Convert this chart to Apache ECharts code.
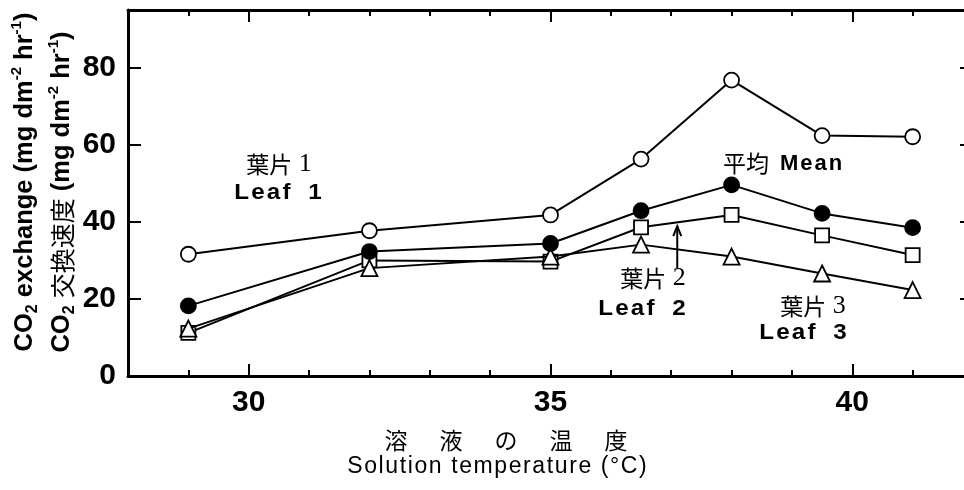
<!DOCTYPE html>
<html>
<head>
<meta charset="utf-8">
<script src="https://cdn.jsdelivr.net/npm/echarts@6/dist/echarts.min.js"></script>
<style>
  html, body { margin: 0; padding: 0; background: #fff; }
  #chart { width: 964px; height: 490px; }
</style>
</head>
<body>
<div id="chart"></div>
<script>
// Solution temperature (°C) at each measurement
const temperatures = [29, 32, 35, 36.5, 38, 39.5, 41];
// CO2 exchange rate (mg dm^-2 hr^-1)
const leaf1 = [31.6, 37.7, 41.8, 56.3, 76.8, 62.4, 62.1];
const leaf2 = [11.2, 30.0, 29.7, 38.6, 41.8, 36.5, 31.4];
const leaf3 = [12.3, 28.0, 31.0, 34.1, 31.0, 26.6, 22.3];
const mean  = [18.2, 32.3, 34.4, 42.9, 49.6, 42.2, 38.5];

// Axis ticks
const xMinorTicks = [29, 31, 32, 33, 34, 36, 37, 38, 39, 41];
const xMajorTicks = [30, 35, 40];
const yTicks = [0, 20, 40, 60, 80];

// Arrow pointing at the Leaf 2 curve (data coordinates: [temperature, rate])
const arrowFrom = [37.1, 28.0];
const arrowTo = [37.1, 38.9];

const SANS = '"Liberation Sans", Arial, sans-serif';
const CJK = '"Noto Sans CJK JP", sans-serif';
const SERIF = '"Liberation Serif", serif';
const INK = '#000';

function pairs(values) {
  return temperatures.map((t, i) => [t, values[i]]);
}
// wrap each character in its own rich token so the text gets letter spacing
function spaced(str, style) {
  return str.split('').map(c => '{' + style + '|' + c + '}').join('');
}
function leafText(n) {
  return spaced('Leaf', 'e') + '{w| }' + '{e|' + n + '}';
}

const chart = echarts.init(document.getElementById('chart'), null, { renderer: 'canvas' });

const tickStyle = { color: INK, width: 2 };
const lineStyleAxis = { color: INK, width: 3 };

function xAxisPair(position, withLabels) {
  return [
    {
      type: 'value', min: 28, max: 42, position: position,
      axisLine: { show: true, onZero: false, lineStyle: lineStyleAxis },
      axisTick: { show: true, inside: true, length: 6, customValues: xMinorTicks, lineStyle: tickStyle },
      axisLabel: { show: false },
      splitLine: { show: false }
    },
    {
      type: 'value', min: 28, max: 42, position: position,
      axisLine: { show: false, onZero: false },
      axisTick: { show: true, inside: true, length: 12, customValues: xMajorTicks, lineStyle: tickStyle },
      axisLabel: {
        show: withLabels, customValues: xMajorTicks, color: INK,
        fontFamily: SANS, fontSize: 30, fontWeight: 'bold', margin: 12
      },
      splitLine: { show: false }
    }
  ];
}

function yAxisSide(position, withLabels) {
  return {
    type: 'value', min: 0, max: 95, position: position,
    axisLine: { show: true, onZero: false, lineStyle: lineStyleAxis },
    axisTick: { show: true, inside: true, length: 13, customValues: yTicks, lineStyle: tickStyle },
    axisLabel: {
      show: withLabels, customValues: yTicks, color: INK,
      fontFamily: SANS, fontSize: 30, fontWeight: 'bold', margin: 12
    },
    splitLine: { show: false }
  };
}

function lineSeries(name, values, symbol, size, fill, z) {
  return {
    name: name, type: 'line', xAxisIndex: 0, yAxisIndex: 0,
    data: pairs(values),
    symbol: symbol, symbolSize: size, showSymbol: true,
    lineStyle: { color: INK, width: 2 },
    itemStyle: { color: fill, borderColor: INK, borderWidth: 1.8 },
    emphasis: { disabled: true },
    silent: true, z: z,
    animation: false
  };
}

const titleRich = {
  t: { fontFamily: SANS, fontSize: 25.5, fontWeight: 'bold', color: INK, lineHeight: 32 },
  sub: { fontFamily: SANS, fontSize: 16, fontWeight: 'bold', color: INK, lineHeight: 17, verticalAlign: 'bottom' },
  sup: { fontFamily: SANS, fontSize: 15, fontWeight: 'bold', color: INK, lineHeight: 17, verticalAlign: 'top' },
  cjk: { fontFamily: CJK, fontSize: 25, fontWeight: 'normal', color: INK, lineHeight: 32 }
};

const noteRich = {
  j: { fontFamily: CJK, fontSize: 23, color: INK },
  n: { fontFamily: SERIF, fontSize: 26, color: INK },
  e: { fontFamily: SANS, fontSize: 22, fontWeight: 'bold', color: INK, padding: [0, 1, 0, 1] },
  w: { fontFamily: SANS, fontSize: 22, fontWeight: 'bold', color: INK, padding: [0, 4, 0, 4] }
};

function note(x, y, text, sx) {
  return { type: 'text', x: x, y: y, silent: true, scaleX: sx || 1,
    style: { text: text, rich: noteRich, align: 'center', verticalAlign: 'middle' } };
}

const graphics = [
  // y-axis titles, read bottom to top
  { type: 'text', x: 25, y: 182, rotation: Math.PI / 2, silent: true,
    style: { text: '{t|CO}{sub|2}{t| exchange (mg dm}{sup|-2}{t| hr}{sup|-1}{t|)}',
             rich: titleRich, align: 'center', verticalAlign: 'middle' } },
  { type: 'text', x: 62, y: 192, rotation: Math.PI / 2, silent: true,
    style: { text: '{t|CO}{sub|2}{t| }{cjk|交換速度}{t| (mg dm}{sup|-2}{t| hr}{sup|-1}{t|)}',
             rich: titleRich, align: 'center', verticalAlign: 'middle' } },
  // x-axis titles
  { type: 'text', x: 506, y: 440, silent: true,
    style: { text: spaced('溶液の温度', 'k'),
             rich: { k: { fontFamily: CJK, fontSize: 23, color: INK, padding: [0, 16, 0, 16] } },
             align: 'center', verticalAlign: 'middle' } },
  { type: 'text', x: 497, y: 467, silent: true,
    style: { text: spaced('Solution temperature (°C)', 's'),
             rich: { s: { fontFamily: SANS, fontSize: 23, color: INK, padding: [0, 0.8, 0, 0.8] } },
             align: 'center', verticalAlign: 'middle' } },
  // curve labels
  note(279, 164, '{j|葉片}{n| 1}'),
  note(278, 193, leafText('1'), 1.1),
  note(746, 163, '{j|平均}'),
  note(811, 164, spaced('Mean', 'e'), 1.0),
  note(653, 278, '{j|葉片}{n| 2}'),
  note(642, 309, leafText('2'), 1.1),
  note(813, 306, '{j|葉片}{n| 3}'),
  note(803, 333, leafText('3'), 1.1)
];

chart.setOption({
  animation: false,
  backgroundColor: '#fff',
  grid: { left: 128, right: -9, top: 10, bottom: 114, containLabel: false, outerBoundsMode: 'none' },
  xAxis: [].concat(xAxisPair('bottom', true), xAxisPair('top', false)),
  yAxis: [yAxisSide('left', true), yAxisSide('right', false)],
  series: [
    lineSeries('Leaf 2', leaf2, 'rect', 14, '#fff', 2),
    lineSeries('Leaf 3', leaf3, 'triangle', 16, '#fff', 3),
    lineSeries('Mean', mean, 'circle', 15, INK, 4),
    lineSeries('Leaf 1', leaf1, 'circle', 15, '#fff', 5)
  ],
  graphic: graphics
});

// arrow from the "葉片 2" label up to its curve
const p0 = chart.convertToPixel({ xAxisIndex: 0, yAxisIndex: 0 }, arrowFrom);
const p1 = chart.convertToPixel({ xAxisIndex: 0, yAxisIndex: 0 }, arrowTo);
chart.setOption({
  graphic: graphics.concat([
    { type: 'line', silent: true,
      shape: { x1: p0[0], y1: p0[1], x2: p1[0], y2: p1[1] },
      style: { stroke: INK, lineWidth: 2 } },
    { type: 'polyline', silent: true,
      shape: { points: [[p1[0] - 4, p1[1] + 10], [p1[0], p1[1]], [p1[0] + 4, p1[1] + 10]] },
      style: { stroke: INK, lineWidth: 2, fill: null } }
  ])
});
</script>
</body>
</html>
